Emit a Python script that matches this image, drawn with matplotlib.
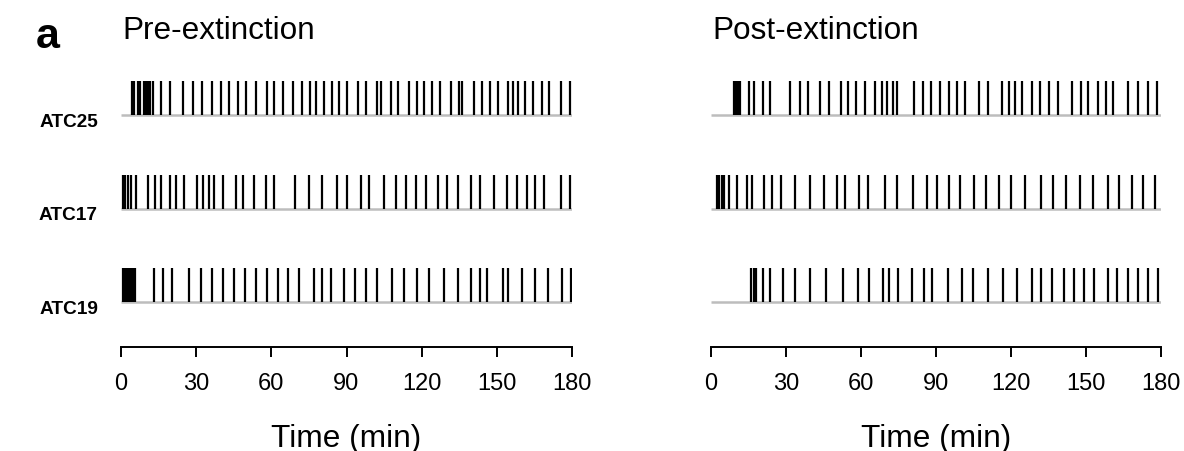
# Importamos matplotlib sin pantalla
import matplotlib
matplotlib.use('Agg')
import matplotlib.pyplot as plt

# Fuente parecida a Arial
plt.rcParams['font.family'] = ['Liberation Sans', 'DejaVu Sans']

# Nombres de los animales (de arriba hacia abajo)
animales = ['ATC25', 'ATC17', 'ATC19']

# Tiempos de los eventos (min) antes de la extinción
pre_atc25 = [4.5, 5.1, 6.9, 7.7, 9.0, 9.8, 10.6, 11.4, 12.8, 16.0, 19.6, 24.6, 28.7,
             32.5, 36.4, 39.9, 43.2, 46.6, 50.0, 53.9, 58.3, 61.2, 64.5, 68.6, 72.1,
             75.4, 77.9, 81.0, 84.1, 87.0, 90.3, 94.4, 97.6, 102.3, 103.8, 107.7,
             110.7, 115.0, 118.2, 121.0, 124.0, 127.3, 131.7, 134.8, 136.2, 141.0,
             144.2, 147.4, 150.6, 154.4, 156.4, 158.6, 161.3, 164.5, 167.9, 170.8,
             175.5, 179.2]
pre_atc17 = [0.8, 1.5, 2.7, 3.9, 6.0, 10.6, 13.6, 16.0, 19.7, 21.9, 25.1, 30.2, 32.6,
             35.2, 37.0, 40.8, 45.9, 48.7, 53.0, 57.9, 61.1, 69.4, 75.0, 80.1, 86.1,
             90.3, 95.7, 99.0, 105.1, 109.6, 113.6, 117.6, 121.7, 126.6, 130.2, 134.6,
             139.5, 143.1, 148.8, 153.9, 158.0, 162.1, 165.2, 168.9, 175.6, 179.2]
pre_atc19 = [0.8, 1.2, 1.6, 2.0, 2.3, 2.7, 3.1, 3.4, 3.8, 4.2, 4.6, 4.9, 5.3, 5.7,
             13.0, 16.8, 20.4, 27.1, 31.9, 36.4, 40.7, 45.1, 49.5, 53.9, 58.3, 62.5,
             66.6, 70.9, 77.1, 80.3, 83.8, 88.9, 93.4, 97.8, 102.3, 108.3, 113.1,
             118.0, 123.0, 129.0, 134.6, 139.7, 143.4, 146.2, 152.4, 154.6, 160.1,
             165.2, 170.5, 175.9, 179.8]

# Tiempos de los eventos (min) después de la extinción
post_atc25 = [9.2, 10.0, 10.8, 11.6, 15.3, 17.3, 20.8, 23.7, 31.5, 35.6, 38.7, 43.7,
              47.2, 52.0, 54.9, 58.1, 61.6, 65.5, 68.3, 70.3, 72.7, 74.5, 81.3, 84.8,
              87.9, 91.6, 95.2, 98.3, 101.6, 107.2, 110.9, 116.3, 119.2, 121.6, 124.3,
              128.3, 131.7, 135.3, 138.9, 144.3, 148.0, 150.9, 154.9, 157.9, 160.9,
              166.9, 170.9, 174.9, 178.3]
post_atc17 = [2.4, 3.2, 4.3, 5.3, 7.2, 10.5, 14.3, 16.5, 21.3, 24.3, 28.0, 33.6, 39.6,
              45.2, 50.5, 53.6, 59.3, 62.9, 69.6, 74.5, 80.9, 86.5, 90.5, 95.3, 99.6,
              105.2, 109.9, 115.3, 120.0, 125.6, 132.0, 136.9, 142.0, 147.6, 152.7,
              158.7, 163.3, 168.3, 172.9, 177.6]
post_atc19 = [15.9, 17.3, 18.0, 20.9, 23.7, 28.9, 33.6, 39.7, 45.9, 52.9, 58.7, 63.3,
              68.9, 71.3, 74.9, 80.5, 85.2, 88.5, 94.9, 100.5, 104.9, 110.9, 116.9,
              122.3, 128.3, 132.0, 136.3, 141.0, 145.0, 149.0, 153.0, 158.7, 162.3,
              166.7, 170.9, 174.9, 178.7]

# Títulos y marcas del eje X
titulos = ['Pre-extinction', 'Post-extinction']
marcas_x = [0, 30, 60, 90, 120, 150, 180]

paneles = [[pre_atc25, pre_atc17, pre_atc19],
           [post_atc25, post_atc17, post_atc19]]

W, H = 1184, 452
fig = plt.figure(figsize=(W / 100, H / 100), dpi=100)

# Posición (en píxeles) del borde izquierdo y derecho de cada panel
bordes = [(121, 572), (711, 1161)]
alto_evento = 0.36

for i, eventos in enumerate(paneles):
    x0, x1 = bordes[i]
    ax = fig.add_axes([x0 / W, (H - 348) / H, (x1 - x0) / W, 273 / H])
    ax.set_xlim(0, 180)
    ax.set_ylim(0.519, 3.44)

    for j, tiempos in enumerate(eventos):
        y = 3 - j
        # línea base gris y eventos en negro
        ax.hlines(y, 0, 180, color='#bdbdbd', lw=1.8, zorder=1)
        ax.vlines(tiempos, y, y + alto_evento, color='black', lw=1.6, zorder=2)
        if i == 0:
            ax.text(-9.2, y - 0.065, animales[j], ha='right', va='center',
                    fontsize=13.7, fontweight='bold', clip_on=False)

    # Solo se deja el eje inferior
    for lado in ['top', 'right', 'left']:
        ax.spines[lado].set_visible(False)
    ax.spines['bottom'].set_bounds(0, 180)
    ax.spines['bottom'].set_linewidth(1.4)
    ax.set_yticks([])
    ax.set_xticks(marcas_x)
    ax.tick_params(axis='x', length=7, width=1.4, labelsize=17, pad=11)

    centro = (x0 + x1) / 2 / W
    fig.text(centro, 1 - 439 / H, 'Time (min)', ha='center', va='center', fontsize=22.8)
    fig.text((x0 + 1) / W, 1 - 31 / H, titulos[i], ha='left', va='center', fontsize=22.7)

# Letra del panel
fig.text(36 / W, 1 - 37 / H, 'a', ha='left', va='center', fontsize=31, fontweight='bold')

fig.savefig('out.png', dpi=100)
